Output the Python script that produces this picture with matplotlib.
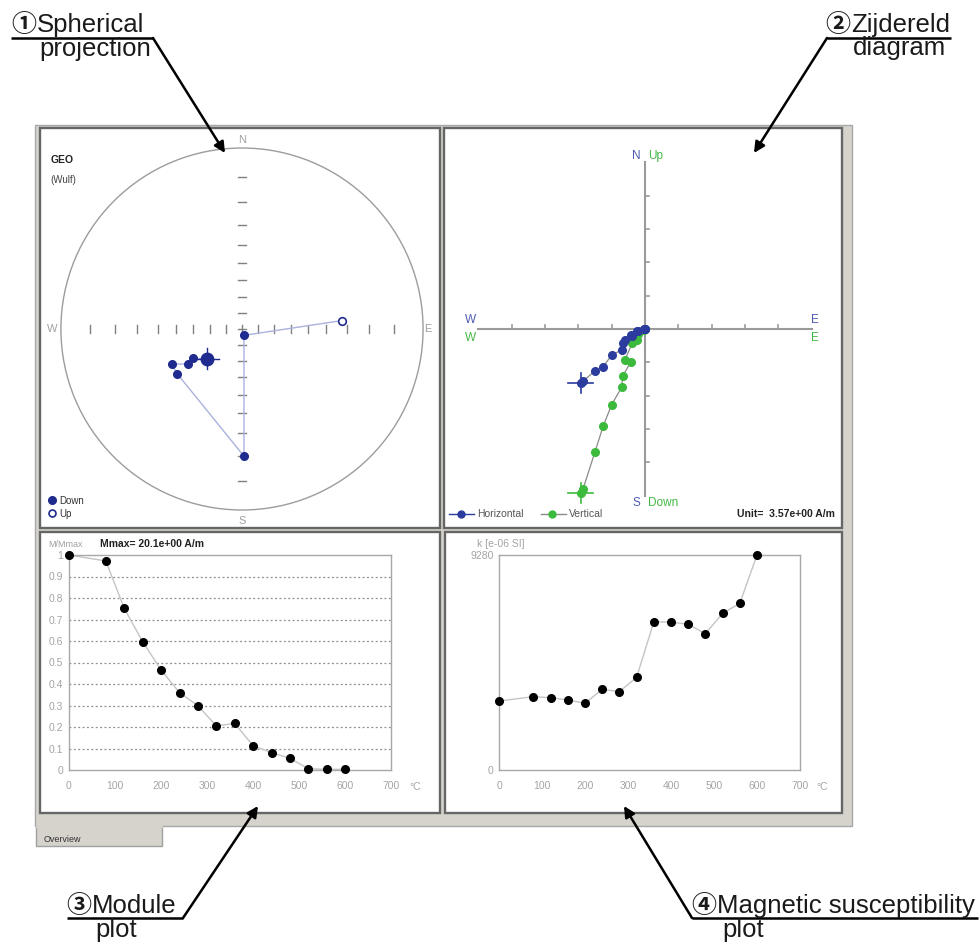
import numpy as np
import matplotlib
matplotlib.use("Agg")
import matplotlib.pyplot as plt
from matplotlib.patches import Rectangle, Circle, Polygon

# ---------------------------------------------------------------- data
# Demagnetisation steps (thermal, degC)
temps = [0, 80, 120, 160, 200, 240, 280, 320, 360, 400, 440, 480, 520, 560, 600]

# Normalised remanence M/Mmax
m_norm = [1.0, 0.972, 0.752, 0.597, 0.465, 0.36, 0.299, 0.205, 0.217,
          0.112, 0.081, 0.054, 0.006, 0.003, 0.003]
m_max_label = "Mmax= 20.1e+00 A/m"

# Magnetic susceptibility k [e-06 SI]
k_sus = [2978, 3165, 3122, 3021, 2877, 3482, 3381, 4000, 6388, 6388,
         6287, 5884, 6762, 7194, 9280]
k_max = 9280

# Remanence components (A/m): East, North, Down
comp_e = [-6.89, -6.64, -5.36, -4.46, -3.57, -2.50, -2.39, -1.54, -2.14,
          -1.36, -0.82, -0.75, -0.07, 0.0, 0.0]
comp_n = [-5.82, -5.57, -4.50, -4.03, -2.78, -2.25, -1.54, -0.64, -1.18,
          -0.79, -0.18, -0.21, -0.04, 0.0, 0.0]
comp_d = [17.56, 17.14, 13.17, 10.35, 8.10, 6.25, 5.07, 3.53, 3.28,
          1.50, 1.14, 0.54, 0.07, 0.0, 0.0]
zij_unit = 3.57  # A/m per tick

# Directions shown on the stereonet (geographic, degrees)
st_dec = [229.7, 239.2, 237.2, 243.5, 235.2, 179.1, 162.5, 85.2]
st_inc = [61.3, 55.2, 50.7, 43.0, 43.0, 19.8, 85.8, -32.2]

# ---------------------------------------------------------------- styles
W, H = 980, 946
NAVY = "#1f2b8e"
ZBLUE = "#2b3c9e"
ZGREEN = "#3cba3c"
LBLUE = "#4b5bb0"
LGREEN = "#44b844"
GREY_TXT = "#a0a0a0"
FRAME = "#666666"

plt.rcParams["font.family"] = ["Liberation Sans", "Noto Sans CJK JP", "DejaVu Sans"]

fig = plt.figure(figsize=(W / 100, H / 100), dpi=100)


def px_axes(x0, y0, x1, y1, **kw):
    return fig.add_axes([x0 / W, 1 - y1 / H, (x1 - x0) / W, (y1 - y0) / H], **kw)


# ---------------------------------------------------------------- window background
bg = px_axes(0, 0, W, H)
bg.set_xlim(0, W)
bg.set_ylim(H, 0)
bg.axis("off")
bg.add_patch(Rectangle((35, 125), 817, 701, fc="#d6d3cc", ec="#a8a8a8", lw=1))
bg.add_patch(Polygon([(36, 826), (162, 826), (162, 846), (36, 846)], closed=True,
                     fc="#d6d3cc", ec="#a0a0a0", lw=1))
bg.plot([37, 161], [826, 826], color="#d6d3cc", lw=2)
bg.text(44, 839, "Overview", fontsize=6.5, color="#333333", va="center")
for (x0, y0, x1, y1) in [(40, 128, 440, 528), (444, 128, 842, 528),
                         (40, 532, 440, 813), (445, 532, 842, 813)]:
    bg.add_patch(Rectangle((x0, y0), x1 - x0, y1 - y0, fc="white", ec=FRAME, lw=1.7))

# ---------------------------------------------------------------- 1) stereonet (Wulff)
ax1 = px_axes(41, 129, 439, 527)
ax1.set_xlim(-1.11, 1.088)
ax1.set_ylim(-1.094, 1.105)
ax1.axis("off")
ax1.add_patch(Circle((0, 0), 1.0, fill=False, ec="#9c9c9c", lw=1.0))


def wulff(dec, inc):
    dec = np.radians(np.asarray(dec))
    r = np.tan(np.radians(90 - np.abs(np.asarray(inc))) / 2)
    return r * np.sin(dec), r * np.cos(dec)


tick_r = [np.tan(np.radians(90 - a) / 2) for a in range(10, 90, 10)]
for r in tick_r:
    for s in (-1, 1):
        ax1.plot([s * r, s * r], [-0.02, 0.02], color="#808080", lw=1)
        ax1.plot([-0.022, 0.022], [s * r, s * r], color="#808080", lw=1)
ax1.plot([0, 0], [-0.02, 0.02], color="#808080", lw=1)
ax1.plot([-0.022, 0.022], [0, 0], color="#808080", lw=1)

for lbl, x, y in [("N", 0, 1.044), ("S", 0, -1.061), ("W", -1.05, 0), ("E", 1.028, 0)]:
    ax1.text(x, y, lbl, color=GREY_TXT, fontsize=8, ha="center", va="center")

sx, sy = wulff(st_dec, st_inc)
ax1.plot(sx, sy, color="#aab2de", lw=1.0, zorder=2)
down = np.asarray(st_inc) >= 0
ax1.plot(sx[down][1:], sy[down][1:], "o", ms=5.5, color=NAVY, zorder=3)
ax1.plot(sx[~down], sy[~down], "o", ms=5.5, mfc="white", mec=NAVY, mew=1.2, zorder=3)
# first direction: enlarged with a cross
ax1.plot(sx[0], sy[0], "o", ms=9, color=NAVY, zorder=3)
ax1.plot([sx[0] - 0.068, sx[0] + 0.068], [sy[0], sy[0]], color=NAVY, lw=1, zorder=3)
ax1.plot([sx[0], sx[0]], [sy[0] - 0.058, sy[0] + 0.058], color=NAVY, lw=1, zorder=3)

ax1.text(0.023, 0.922, "GEO", transform=ax1.transAxes, fontsize=7.5, weight="bold",
         color="#222222", va="center")
ax1.text(0.023, 0.872, "(Wulf)", transform=ax1.transAxes, fontsize=7, color="#444444",
         va="center")
ax1.plot(0.027, 0.068, "o", ms=5.5, color=NAVY, transform=ax1.transAxes)
ax1.text(0.045, 0.066, "Down", transform=ax1.transAxes, fontsize=7, color="#333333",
         va="center")
ax1.plot(0.027, 0.034, "o", ms=5, mfc="white", mec=NAVY, mew=1.2, transform=ax1.transAxes)
ax1.text(0.045, 0.032, "Up", transform=ax1.transAxes, fontsize=7, color="#333333",
         va="center")

# ---------------------------------------------------------------- 2) Zijderveld diagram
ax2 = px_axes(445, 129, 841, 527)
ax2.set_xlim(-6.0, 5.88)
ax2.set_ylim(-5.94, 6.0)
ax2.axis("off")
AX_GREY = "#9a9a9a"
ax2.plot([-5, 5], [0, 0], color=AX_GREY, lw=1.5, zorder=1)
ax2.plot([0, 0], [-5, 5], color=AX_GREY, lw=1.5, zorder=1)
for k in (-4, -3, -2, -1, 1, 2, 3, 4):
    ax2.plot([k, k], [0, 0.11], color=AX_GREY, lw=1.2, zorder=1)
    ax2.plot([0, 0.11], [k, k], color=AX_GREY, lw=1.2, zorder=1)

ze = np.asarray(comp_e) / zij_unit
zn = np.asarray(comp_n) / zij_unit
zd = np.asarray(comp_d) / zij_unit

ax2.plot(ze, zn, color="#8a8a8a", lw=0.9, zorder=2)
ax2.plot(ze, -zd, color="#8a8a8a", lw=0.9, zorder=2)
ax2.plot(ze[::-1], -zd[::-1], "o", ms=5.5, color=ZGREEN, zorder=3)
ax2.plot(ze[::-1], zn[::-1], "o", ms=5.5, color=ZBLUE, zorder=4)
for yv, col in ((zn[0], ZBLUE), (-zd[0], ZGREEN)):
    ax2.plot([ze[0] - 0.37, ze[0] + 0.37], [yv, yv], color=col, lw=1.2, zorder=4)
    ax2.plot([ze[0], ze[0]], [yv - 0.3, yv + 0.3], color=col, lw=1.2, zorder=4)

lab = dict(fontsize=8.5, va="center")
ax2.text(-0.25, 5.19, "N", color=LBLUE, ha="center", **lab)
ax2.text(0.09, 5.19, "Up", color=LGREEN, ha="left", **lab)
ax2.text(-0.25, -5.22, "S", color=LBLUE, ha="center", **lab)
ax2.text(0.09, -5.22, "Down", color=LGREEN, ha="left", **lab)
ax2.text(-5.23, 0.28, "W", color=LBLUE, ha="center", **lab)
ax2.text(-5.23, -0.26, "W", color=LGREEN, ha="center", **lab)
ax2.text(5.09, 0.28, "E", color=LBLUE, ha="center", **lab)
ax2.text(5.09, -0.26, "E", color=LGREEN, ha="center", **lab)

ax2.plot([-5.88, -5.13], [-5.54, -5.54], color=ZBLUE, lw=1)
ax2.plot(-5.51, -5.54, "o", ms=5, color=ZBLUE)
ax2.text(-5.03, -5.54, "Horizontal", fontsize=7.5, color="#555555", va="center")
ax2.plot([-3.13, -2.38], [-5.54, -5.54], color="#8a8a8a", lw=1)
ax2.plot(-2.78, -5.54, "o", ms=5, color=ZGREEN)
ax2.text(-2.28, -5.54, "Vertical", fontsize=7.5, color="#555555", va="center")
ax2.text(5.69, -5.56, "Unit=  %.2fe+00 A/m" % zij_unit, fontsize=7.5, weight="bold",
         color="#222222", ha="right", va="center")

# ---------------------------------------------------------------- 3) module plot
TICK_GREY = "#a4a4a4"


def style_plot_axes(ax):
    for sp in ax.spines.values():
        sp.set_color("#a8a8a8")
        sp.set_linewidth(1.0)
    ax.tick_params(length=0, colors=TICK_GREY, labelsize=7.5)
    ax.tick_params(axis="x", pad=8)
    ax.tick_params(axis="y", pad=4)
    ax.set_xlim(0, 700)
    ax.set_xticks(range(0, 701, 100))


ax3 = px_axes(69, 555, 391.3, 770)
style_plot_axes(ax3)
ax3.set_ylim(0, 1)
yt = [round(v * 0.1, 1) for v in range(11)]
ax3.set_yticks(yt)
ax3.set_yticklabels(["0"] + ["%.1f" % v for v in yt[1:-1]] + ["1"])
for v in yt[1:-1]:
    ax3.axhline(v, color="#8c8c8c", lw=0.9, ls=(0, (1.5, 2)), zorder=1)
ax3.plot(temps, m_norm, color="#c4c4c4", lw=1.0, zorder=2, clip_on=False)
ax3.plot(temps, m_norm, "o", ms=5.5, color="black", zorder=3, clip_on=False)

# ---------------------------------------------------------------- 4) susceptibility plot
ax4 = px_axes(499, 555, 800, 770)
style_plot_axes(ax4)
ax4.set_ylim(0, k_max)
ax4.set_yticks([0, k_max])
ax4.set_yticklabels(["0", str(k_max)])
ax4.plot(temps, k_sus, color="#c4c4c4", lw=1.0, zorder=2, clip_on=False)
ax4.plot(temps, k_sus, "o", ms=5.5, color="black", zorder=3, clip_on=False)

# ---------------------------------------------------------------- overlay: labels and callouts
top = px_axes(0, 0, W, H)
top.set_xlim(0, W)
top.set_ylim(H, 0)
top.axis("off")
top.set_zorder(20)
top.patch.set_alpha(0)

top.text(48.7, 544, "M/Mmax", fontsize=6.5, color=GREY_TXT, va="center")
top.text(100, 544, m_max_label, fontsize=7.5, weight="bold", color="#222222", va="center")
top.text(414.7, 786.7, "°C", fontsize=7.5, color=TICK_GREY, va="center", ha="center")
top.text(477, 544, "k [e-06 SI]", fontsize=7.5, color=TICK_GREY, va="center")
top.text(822, 786.7, "°C", fontsize=7.5, color=TICK_GREY, va="center", ha="center")

big = dict(fontsize=18.5, color="#1a1a1a", va="baseline")
num = dict(fontsize=18, color="#1a1a1a", va="baseline", weight="bold",
           family=["Noto Sans CJK JP", "DejaVu Sans"])
callout_text = [(11, 32, "①", 37, "Spherical", 39, 56, "projection"),
                (825, 32, "②", 851, "Zijdereld", 853, 55, "diagram"),
                (66, 913, "③", 92, "Module", 95, 937, "plot"),
                (691, 913, "④", 717, "Magnetic susceptibility", 722, 937, "plot")]
for nx, ny, n, wx, w1, lx, ly, w2 in callout_text:
    top.text(nx, ny, n, **num)
    top.text(wx, ny, w1, **big)
    top.text(lx, ly, w2, **big)

arrow = dict(arrowstyle="-|>", color="black", lw=1.8, mutation_scale=16,
             shrinkA=0, shrinkB=0)
callouts = [((11, 153), 38, (153, 38), (225, 153)),
            ((827, 951), 38, (827, 38), (754, 153)),
            ((67, 183), 918, (183, 918), (258, 806)),
            ((692, 978), 918, (692, 918), (624, 806))]
for (ux0, ux1), uy, start, tip in callouts:
    top.plot([ux0, ux1], [uy, uy], color="black", lw=1.8, solid_capstyle="butt")
    top.annotate("", xy=tip, xytext=start, arrowprops=arrow)

fig.savefig("out.png", dpi=100)
